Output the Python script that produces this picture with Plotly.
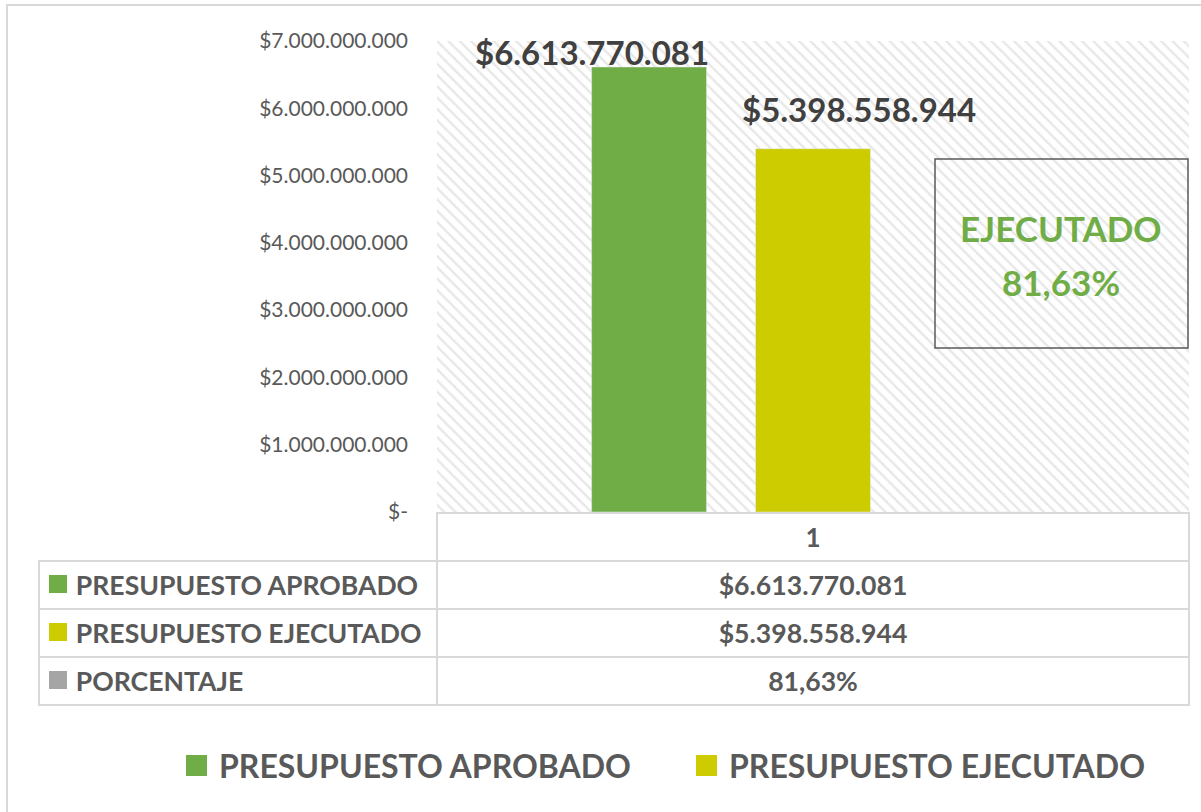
import plotly.graph_objects as go

# ---- data -------------------------------------------------------------
categories = ["1"]
series_names = ["PRESUPUESTO APROBADO", "PRESUPUESTO EJECUTADO", "PORCENTAJE"]
presupuesto_aprobado = [6613770081]
presupuesto_ejecutado = [5398558944]
porcentaje = [0.8163]
series_colors = ["#70AD47", "#CCCC00", "#A5A5A5"]

y_tick_values = [0, 1e9, 2e9, 3e9, 4e9, 5e9, 6e9, 7e9]
y_tick_labels = ["$-", "$1.000.000.000", "$2.000.000.000", "$3.000.000.000",
                 "$4.000.000.000", "$5.000.000.000", "$6.000.000.000",
                 "$7.000.000.000"]

# ---- helpers ----------------------------------------------------------
W, H = 1201, 812
FONT = "Lato"
TEXT_GREY = "#595959"
GRID_GREY = "#D9D9D9"


def px(x):
    return x / W


def py(y):
    return 1 - y / H


def money(v):
    return "$" + f"{v:,}".replace(",", ".")


def pct(p):
    return f"{p * 100:.2f}%".replace(".", ",")


def no_wrap(s):
    # non-breaking spaces keep table labels on a single line
    return s.replace(" ", "\u00a0")


series_values = [presupuesto_aprobado, presupuesto_ejecutado, porcentaje]

fig = go.Figure()

# hatched plot-area background (drawn on the base axes, under the bars)
fig.add_trace(go.Scatter(
    x=[0, 1, 1, 0, 0], y=[0, 0, 1, 1, 0],
    fill="toself", mode="none", fillcolor="white",
    fillpattern=dict(shape="\\", fgcolor="#D0D0D0", bgcolor="white",
                     size=8, solidity=0.3),
    hoverinfo="skip", showlegend=False,
))

# bars
for name, vals, color in zip(series_names, series_values, series_colors):
    fig.add_trace(go.Bar(
        x=categories, y=vals, name=name, marker_color=color,
        xaxis="x2", yaxis="y2", showlegend=False,
    ))

# data labels above the two budget bars (x given as category index 0)
label_xshift = [-221, 46]
label_yshift = [15, 40]
for vals, dx, dy in zip(series_values[:2], label_xshift, label_yshift):
    fig.add_annotation(
        x=0, y=vals[0], xref="x2", yref="y2",
        text=f"<b>{money(vals[0])}</b>", showarrow=False,
        xanchor="center", yanchor="middle", xshift=dx, yshift=dy,
        font=dict(family=FONT, size=33, color="#404040"),
    )

# executed-percentage callout box
fig.add_shape(type="rect", xref="paper", yref="paper",
              x0=px(935), x1=px(1188), y0=py(348), y1=py(159),
              line=dict(color=TEXT_GREY, width=1.5), fillcolor="rgba(0,0,0,0)")
for txt, yc in zip(["EJECUTADO", pct(porcentaje[0])], [228, 282]):
    fig.add_annotation(
        x=px(1061), y=py(yc), xref="paper", yref="paper",
        text=f"<b>{txt}</b>", showarrow=False,
        xanchor="center", yanchor="middle",
        font=dict(family=FONT, size=35, color="#70AD47"),
    )

# data table under the plot
row_labels = [f"\u2003\u2004<b>{no_wrap(n)}</b>" for n in series_names]
row_values = [f"<b>{money(presupuesto_aprobado[0])}</b>",
              f"<b>{money(presupuesto_ejecutado[0])}</b>",
              f"<b>{pct(porcentaje[0])}</b>"]
fig.add_trace(go.Table(
    domain=dict(x=[px(39), px(1189)], y=[py(708), py(513)]),
    columnwidth=[398, 752],
    header=dict(values=["", f"<b>{categories[0]}</b>"],
                fill_color=["rgba(0,0,0,0)", "white"],
                line=dict(color=["rgba(0,0,0,0)", GRID_GREY], width=2),
                font=dict(family=FONT, size=26, color=TEXT_GREY),
                align="center", height=47),
    cells=dict(values=[row_labels, row_values],
               fill_color="white",
               line=dict(color=GRID_GREY, width=2),
               font=dict(family=FONT, size=26.6, color=TEXT_GREY),
               align=["left", "center"], height=48),
))

# series colour keys in the table's first column
row_centres = [584, 632, 680]
for color, yc in zip(series_colors, row_centres):
    fig.add_shape(type="rect", xref="paper", yref="paper",
                  x0=px(49), x1=px(67), y0=py(yc + 9), y1=py(yc - 9),
                  line=dict(width=0), fillcolor=color)

# bottom legend
legend_items = [(series_names[0], series_colors[0], 186, 217),
                (series_names[1], series_colors[1], 696, 727)]
for name, color, sq_x, tx_x in legend_items:
    fig.add_shape(type="rect", xref="paper", yref="paper",
                  x0=px(sq_x), x1=px(sq_x + 21), y0=py(776), y1=py(755),
                  line=dict(width=0), fillcolor=color)
    fig.add_annotation(
        x=px(tx_x), y=py(765.5), xref="paper", yref="paper",
        text=f"<b>{name}</b>", showarrow=False,
        xanchor="left", yanchor="middle",
        font=dict(family=FONT, size=32, color=TEXT_GREY),
    )

# chart frame
fig.add_shape(type="rect", xref="paper", yref="paper",
              x0=px(7), x1=1.05, y0=-0.05, y1=py(5),
              line=dict(color=GRID_GREY, width=2), fillcolor="rgba(0,0,0,0)",
              layer="below")

fig.update_layout(
    width=W, height=H,
    margin=dict(l=0, r=0, t=0, b=0, pad=0, autoexpand=False),
    paper_bgcolor="white", plot_bgcolor="white",
    barmode="group", bargap=0.346, bargroupgap=0.299,
    showlegend=False,
    font=dict(family=FONT, color=TEXT_GREY),
    xaxis=dict(domain=[px(437), px(1189)], range=[0, 1], visible=False,
               fixedrange=True),
    yaxis=dict(domain=[py(512), py(41)], range=[0, 1], visible=False,
               fixedrange=True),
    xaxis2=dict(overlaying="x", anchor="y2", type="category",
                range=[-0.5, 0.5], showticklabels=False, showgrid=False,
                zeroline=False, showline=False),
    yaxis2=dict(overlaying="y", anchor="x2", side="left",
                range=[0, 7e9], tickvals=y_tick_values, ticktext=y_tick_labels,
                tickfont=dict(family=FONT, size=21, color=TEXT_GREY),
                ticklabelstandoff=28, showgrid=False, zeroline=False,
                showline=False, ticks="", automargin=False),
)

fig.write_html("out.html")
